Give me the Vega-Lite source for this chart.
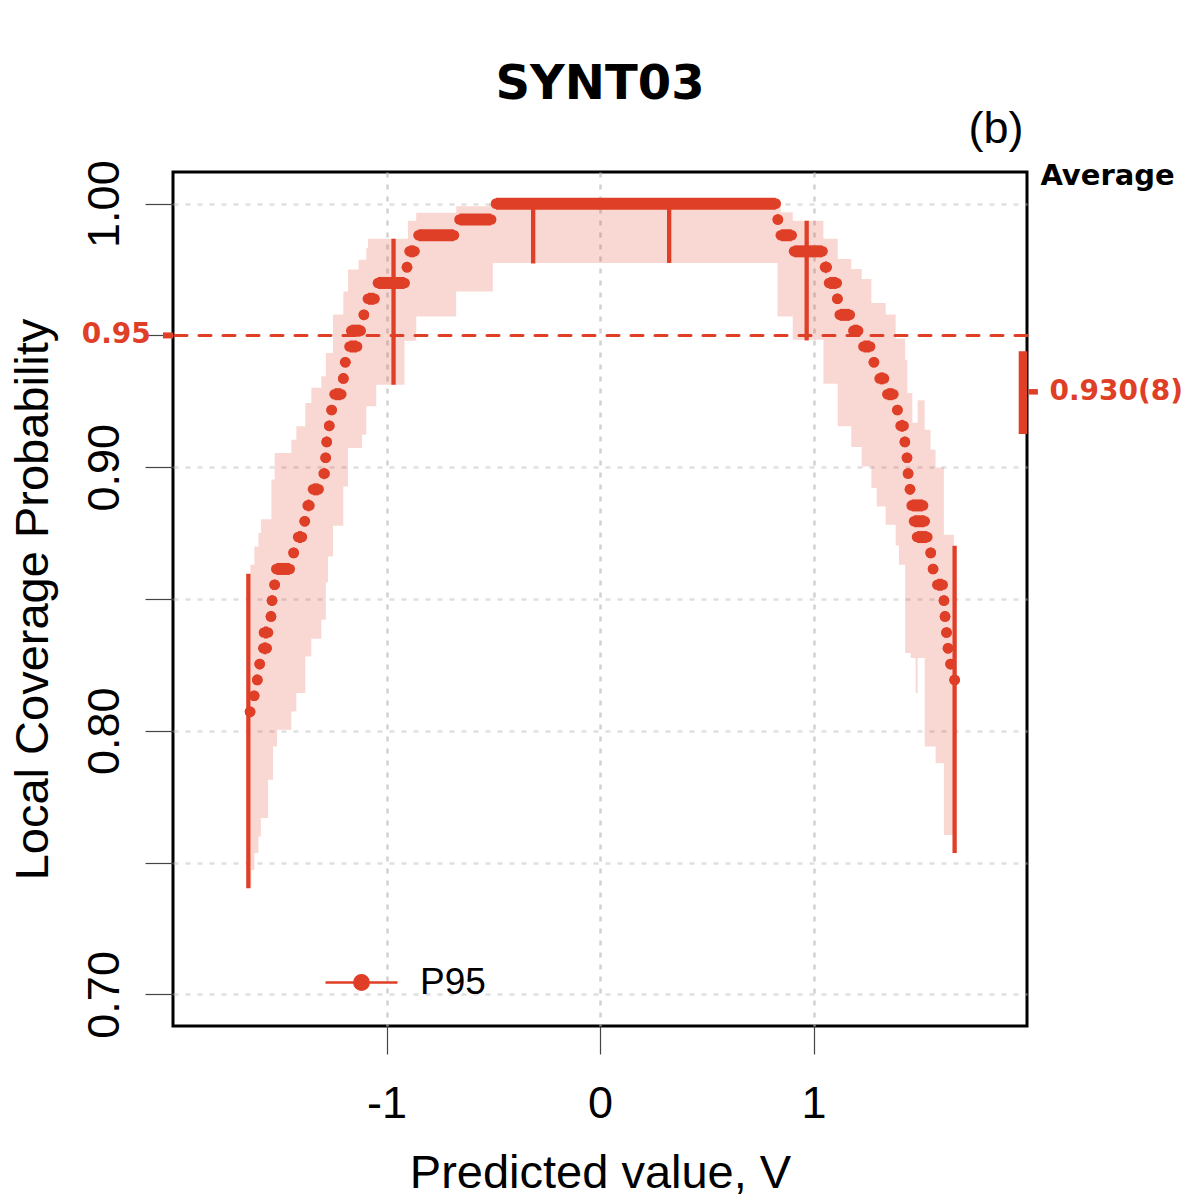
{
  "$schema": "https://vega.github.io/schema/vega-lite/v6.json",
  "width": 854,
  "height": 854,
  "autosize": {"type": "none"},
  "padding": {"left": 173, "top": 172, "right": 173, "bottom": 174},
  "background": "white",
  "title": {"text": "SYNT03"},
  "config": {
    "view": {"stroke": "black", "strokeWidth": 3},
    "font": "Liberation Sans",
    "title": {"font": "DejaVu Sans", "fontSize": 48, "fontWeight": "bold", "color": "black", "anchor": "middle", "frame": "group", "baseline": "alphabetic", "offset": -2},
    "axis": {
      "domain": false, "grid": true, "gridColor": "#BEBEBE", "gridOpacity": 0.7, "gridWidth": 2.5, "gridDash": [5, 7],
      "tickColor": "#444444", "tickWidth": 1.2, "tickSize": 28,
      "labelFont": "Liberation Sans", "labelFontSize": 45, "labelColor": "black",
      "titleFont": "Liberation Sans", "titleFontSize": 47, "titleFontWeight": "normal", "titleColor": "black",
      "zindex": 1, "labelOverlap": false, "labelFlush": false
    }
  },
  "datasets": {
    "band": [
      {"v": -1.6374, "hi": 0.8630, "lo": 0.7409},
      {"v": -1.6327, "hi": 0.8630, "lo": 0.7472},
      {"v": -1.6187, "hi": 0.8699, "lo": 0.7536},
      {"v": -1.6000, "hi": 0.8750, "lo": 0.7599},
      {"v": -1.5883, "hi": 0.8803, "lo": 0.7669},
      {"v": -1.5546, "hi": 0.8803, "lo": 0.7814},
      {"v": -1.5392, "hi": 0.8953, "lo": 0.7814},
      {"v": -1.5313, "hi": 0.8953, "lo": 0.7940},
      {"v": -1.5237, "hi": 0.9054, "lo": 0.7940},
      {"v": -1.5125, "hi": 0.9054, "lo": 0.8004},
      {"v": -1.4456, "hi": 0.9104, "lo": 0.8073},
      {"v": -1.4222, "hi": 0.9155, "lo": 0.8143},
      {"v": -1.3801, "hi": 0.9244, "lo": 0.8282},
      {"v": -1.3520, "hi": 0.9301, "lo": 0.8349},
      {"v": -1.3053, "hi": 0.9345, "lo": 0.8421},
      {"v": -1.2842, "hi": 0.9433, "lo": 0.8563},
      {"v": -1.2739, "hi": 0.9433, "lo": 0.8661},
      {"v": -1.2505, "hi": 0.9579, "lo": 0.8778},
      {"v": -1.2023, "hi": 0.9667, "lo": 0.8927},
      {"v": -1.1804, "hi": 0.9750, "lo": 0.9073},
      {"v": -1.1308, "hi": 0.9787, "lo": 0.9073},
      {"v": -1.1149, "hi": 0.9787, "lo": 0.9123},
      {"v": -1.0947, "hi": 0.9832, "lo": 0.9231},
      {"v": -1.0868, "hi": 0.9867, "lo": 0.9231},
      {"v": -1.0480, "hi": 0.9867, "lo": 0.9313},
      {"v": -0.9155, "hi": 0.9867, "lo": 0.9480},
      {"v": -0.8997, "hi": 0.9935, "lo": 0.9480},
      {"v": -0.8608, "hi": 0.9965, "lo": 0.9572},
      {"v": -0.6737, "hi": 0.9990, "lo": 0.9667},
      {"v": -0.5193, "hi": 1.0000, "lo": 0.9667},
      {"v": -0.5020, "hi": 1.0000, "lo": 0.9775},
      {"v": 0.8313, "hi": 1.0000, "lo": 0.9572},
      {"v": 0.8468, "hi": 0.9967, "lo": 0.9572},
      {"v": 0.9029, "hi": 0.9935, "lo": 0.9484},
      {"v": 1.0465, "hi": 0.9867, "lo": 0.9317},
      {"v": 1.1135, "hi": 0.9790, "lo": 0.9155},
      {"v": 1.1766, "hi": 0.9752, "lo": 0.9077},
      {"v": 1.2257, "hi": 0.9714, "lo": 0.9003},
      {"v": 1.2711, "hi": 0.9623, "lo": 0.8921},
      {"v": 1.2959, "hi": 0.9623, "lo": 0.8851},
      {"v": 1.3380, "hi": 0.9579, "lo": 0.8782},
      {"v": 1.3848, "hi": 0.9488, "lo": 0.8703},
      {"v": 1.4002, "hi": 0.9488, "lo": 0.8630},
      {"v": 1.4292, "hi": 0.9408, "lo": 0.8295},
      {"v": 1.4395, "hi": 0.9282, "lo": 0.8295},
      {"v": 1.4550, "hi": 0.9282, "lo": 0.8276},
      {"v": 1.4629, "hi": 0.9169, "lo": 0.8276},
      {"v": 1.4784, "hi": 0.9169, "lo": 0.8143},
      {"v": 1.4877, "hi": 0.9254, "lo": 0.8276},
      {"v": 1.5205, "hi": 0.9142, "lo": 0.7940},
      {"v": 1.5485, "hi": 0.9066, "lo": 0.7940},
      {"v": 1.5719, "hi": 0.8999, "lo": 0.7877},
      {"v": 1.6108, "hi": 0.8744, "lo": 0.7605},
      {"v": 1.6575, "hi": 0.8744, "lo": 0.7605}
    ],
    "runs": [
      {"v1": -0.487, "v2": 0.823, "p": 1.0000},
      {"v1": -0.658, "v2": -0.510, "p": 0.9940},
      {"v1": -0.850, "v2": -0.684, "p": 0.9880},
      {"v1": -0.892, "v2": -0.869, "p": 0.9819},
      {"v1": -0.904, "v2": -0.904, "p": 0.9759},
      {"v1": -1.040, "v2": -0.915, "p": 0.9699},
      {"v1": -1.087, "v2": -1.056, "p": 0.9639},
      {"v1": -1.106, "v2": -1.106, "p": 0.9578},
      {"v1": -1.165, "v2": -1.121, "p": 0.9518},
      {"v1": -1.173, "v2": -1.138, "p": 0.9458},
      {"v1": -1.193, "v2": -1.193, "p": 0.9398},
      {"v1": -1.202, "v2": -1.202, "p": 0.9337},
      {"v1": -1.243, "v2": -1.212, "p": 0.9277},
      {"v1": -1.257, "v2": -1.257, "p": 0.9217},
      {"v1": -1.268, "v2": -1.268, "p": 0.9157},
      {"v1": -1.280, "v2": -1.280, "p": 0.9096},
      {"v1": -1.285, "v2": -1.285, "p": 0.9036},
      {"v1": -1.294, "v2": -1.290, "p": 0.8976},
      {"v1": -1.344, "v2": -1.318, "p": 0.8916},
      {"v1": -1.369, "v2": -1.361, "p": 0.8855},
      {"v1": -1.383, "v2": -1.383, "p": 0.8795},
      {"v1": -1.414, "v2": -1.396, "p": 0.8735},
      {"v1": -1.435, "v2": -1.435, "p": 0.8675},
      {"v1": -1.516, "v2": -1.453, "p": 0.8614},
      {"v1": -1.524, "v2": -1.524, "p": 0.8554},
      {"v1": -1.536, "v2": -1.536, "p": 0.8494},
      {"v1": -1.541, "v2": -1.541, "p": 0.8434},
      {"v1": -1.574, "v2": -1.555, "p": 0.8373},
      {"v1": -1.577, "v2": -1.561, "p": 0.8313},
      {"v1": -1.594, "v2": -1.594, "p": 0.8253},
      {"v1": -1.605, "v2": -1.605, "p": 0.8193},
      {"v1": -1.620, "v2": -1.620, "p": 0.8133},
      {"v1": -1.639, "v2": -1.639, "p": 0.8072},
      {"v1": 0.833, "v2": 0.833, "p": 0.9940},
      {"v1": 0.847, "v2": 0.898, "p": 0.9880},
      {"v1": 0.909, "v2": 1.042, "p": 0.9819},
      {"v1": 1.054, "v2": 1.062, "p": 0.9759},
      {"v1": 1.073, "v2": 1.109, "p": 0.9699},
      {"v1": 1.112, "v2": 1.112, "p": 0.9639},
      {"v1": 1.123, "v2": 1.170, "p": 0.9578},
      {"v1": 1.187, "v2": 1.209, "p": 0.9518},
      {"v1": 1.234, "v2": 1.265, "p": 0.9458},
      {"v1": 1.283, "v2": 1.283, "p": 0.9398},
      {"v1": 1.310, "v2": 1.330, "p": 0.9337},
      {"v1": 1.346, "v2": 1.374, "p": 0.9277},
      {"v1": 1.393, "v2": 1.393, "p": 0.9217},
      {"v1": 1.408, "v2": 1.422, "p": 0.9157},
      {"v1": 1.428, "v2": 1.428, "p": 0.9096},
      {"v1": 1.438, "v2": 1.438, "p": 0.9036},
      {"v1": 1.443, "v2": 1.443, "p": 0.8976},
      {"v1": 1.452, "v2": 1.452, "p": 0.8916},
      {"v1": 1.460, "v2": 1.513, "p": 0.8855},
      {"v1": 1.471, "v2": 1.521, "p": 0.8795},
      {"v1": 1.485, "v2": 1.533, "p": 0.8735},
      {"v1": 1.549, "v2": 1.549, "p": 0.8675},
      {"v1": 1.560, "v2": 1.560, "p": 0.8614},
      {"v1": 1.580, "v2": 1.605, "p": 0.8554},
      {"v1": 1.611, "v2": 1.611, "p": 0.8494},
      {"v1": 1.616, "v2": 1.616, "p": 0.8434},
      {"v1": 1.623, "v2": 1.623, "p": 0.8373},
      {"v1": 1.630, "v2": 1.630, "p": 0.8313},
      {"v1": 1.642, "v2": 1.642, "p": 0.8253},
      {"v1": 1.661, "v2": 1.661, "p": 0.8193}
    ],
    "bars": [
      {"v": -1.647, "lo": 0.7403, "hi": 0.8596},
      {"v": -0.967, "lo": 0.9313, "hi": 0.9867},
      {"v": -0.313, "lo": 0.9773, "hi": 1.0},
      {"v": 0.324, "lo": 0.9775, "hi": 1.0},
      {"v": 0.968, "lo": 0.9481, "hi": 0.9935},
      {"v": 1.661, "lo": 0.7536, "hi": 0.8702}
    ],
    "avg": [
      {"m": 0.9286, "lo": 0.9126, "hi": 0.9440, "label": "0.930(8)"}
    ]
  },
  "layer": [
    {
      "data": {"name": "band"},
      "mark": {"type": "area", "interpolate": "step-after", "color": "#DF3E27", "opacity": 0.2},
      "encoding": {
        "x": {"field": "v", "type": "quantitative", "scale": {"domain": [-2, 2], "nice": false, "zero": false},
          "axis": {"values": [-1, 0, 1], "title": "Predicted value, V",
            "labelExpr": "datum.value < 0 ? '-' + format(-datum.value, 'd') : format(datum.value, 'd')",
            "labelBaseline": "alphabetic", "labelPadding": 63,
            "titleX": 427, "titleY": 161, "titleBaseline": "alphabetic", "titleAlign": "center"}},
        "y": {"field": "hi", "type": "quantitative", "scale": {"domain": [0.688, 1.012], "nice": false, "zero": false},
          "axis": {"values": [0.7, 0.75, 0.8, 0.85, 0.9, 0.95, 1.0], "title": "Local Coverage Probability",
            "labelExpr": "indexof(['0.70','0.80','0.90','1.00'], format(datum.value, '.2f')) >= 0 ? format(datum.value, '.2f') : ''",
            "labelAngle": 270, "labelAlign": "center", "labelBaseline": "alphabetic", "labelPadding": 27,
            "gridOpacity": {"condition": {"test": "abs(datum.value - 0.95) < 0.001", "value": 0}, "value": 0.7},
            "titleAngle": 270, "titleX": -126, "titleY": 427, "titleBaseline": "alphabetic", "titleAlign": "center"}},
        "y2": {"field": "lo"}
      }
    },
    {
      "data": {"values": [{}]},
      "mark": {"type": "rule", "color": "#DF3E27", "strokeWidth": 3, "strokeDash": [12, 12], "strokeCap": "round"},
      "encoding": {
        "y": {"datum": 0.95, "type": "quantitative"}
      }
    },
    {
      "data": {"name": "runs"},
      "mark": {"type": "rule", "color": "#DF3E27", "strokeWidth": 12},
      "encoding": {
        "x": {"field": "v1", "type": "quantitative"},
        "x2": {"field": "v2"},
        "y": {"field": "p", "type": "quantitative"}
      }
    },
    {
      "data": {"name": "runs"},
      "mark": {"type": "point", "shape": "circle", "filled": true, "size": 113, "opacity": 1, "strokeWidth": 0},
      "encoding": {
        "x": {"field": "v1", "type": "quantitative"},
        "y": {"field": "p", "type": "quantitative"},
        "color": {"datum": "P95", "type": "nominal", "scale": {"range": ["#DF3E27"]},
          "legend": {"orient": "none", "legendX": 151, "legendY": 773, "title": null, "padding": 0,
            "symbolType": "M-1,0L1,0M0.2,0A0.2,0.2,0,1,1,-0.2,0A0.2,0.2,0,1,1,0.2,0Z",
            "symbolSize": 5184, "symbolStrokeWidth": 2.5, "symbolFillColor": "#DF3E27", "symbolStrokeColor": "#DF3E27", "symbolOpacity": 1,
            "labelFont": "Liberation Sans", "labelFontSize": 37, "labelColor": "black", "labelOffset": 21,
            "encode": {"symbols": {"update": {
              "shape": {"value": "M-1,0L1,0M0.2,0A0.2,0.2,0,1,1,-0.2,0A0.2,0.2,0,1,1,0.2,0Z"},
              "size": {"value": 5184},
              "fill": {"value": "#DF3E27"}, "stroke": {"value": "#DF3E27"}, "strokeWidth": {"value": 2.5}, "opacity": {"value": 1}}}}}}
      }
    },
    {
      "data": {"name": "runs"},
      "mark": {"type": "point", "shape": "circle", "filled": true, "size": 113, "opacity": 1, "strokeWidth": 0, "color": "#DF3E27"},
      "encoding": {
        "x": {"field": "v2", "type": "quantitative"},
        "y": {"field": "p", "type": "quantitative"}
      }
    },
    {
      "data": {"name": "bars"},
      "mark": {"type": "rule", "color": "#DF3E27", "strokeWidth": 4.3},
      "encoding": {
        "x": {"field": "v", "type": "quantitative"},
        "y": {"field": "lo", "type": "quantitative"},
        "y2": {"field": "hi"}
      }
    },
    {
      "data": {"name": "avg"},
      "mark": {"type": "rule", "color": "#DF3E27", "strokeWidth": 8.5},
      "encoding": {
        "x": {"datum": 1.981, "type": "quantitative"},
        "y": {"field": "lo", "type": "quantitative"},
        "y2": {"field": "hi"}
      }
    },
    {
      "data": {"name": "avg"},
      "mark": {"type": "rule", "color": "#DF3E27", "strokeWidth": 5.5},
      "encoding": {
        "x": {"datum": 2.007, "type": "quantitative"},
        "x2": {"datum": 2.051},
        "y": {"field": "m", "type": "quantitative"}
      }
    },
    {
      "data": {"name": "avg"},
      "mark": {"type": "text", "font": "DejaVu Sans", "fontWeight": "bold", "fontSize": 28, "color": "#DF3E27", "align": "left", "baseline": "middle"},
      "encoding": {
        "x": {"datum": 2.105, "type": "quantitative"},
        "y": {"field": "m", "type": "quantitative"},
        "text": {"field": "label"}
      }
    },
    {
      "data": {"values": [{}]},
      "mark": {"type": "rule", "color": "#DF3E27", "strokeWidth": 6},
      "encoding": {
        "x": {"datum": -2.047, "type": "quantitative"},
        "x2": {"datum": -2.0},
        "y": {"datum": 0.95, "type": "quantitative"}
      }
    },
    {
      "data": {"values": [{}]},
      "mark": {"type": "text", "text": "0.95", "font": "DejaVu Sans", "fontWeight": "bold", "fontSize": 28, "color": "#DF3E27", "align": "right", "baseline": "middle"},
      "encoding": {
        "x": {"datum": -2.104, "type": "quantitative"},
        "y": {"datum": 0.95, "type": "quantitative"}
      }
    },
    {
      "data": {"values": [{}]},
      "mark": {"type": "text", "text": "(b)", "font": "Liberation Sans", "fontSize": 45, "color": "black", "align": "right", "baseline": "alphabetic"},
      "encoding": {
        "x": {"datum": 1.984, "type": "quantitative"},
        "y": {"datum": 1.0229, "type": "quantitative"}
      }
    },
    {
      "data": {"values": [{}]},
      "mark": {"type": "text", "text": "Average", "font": "DejaVu Sans", "fontWeight": "bold", "fontSize": 29, "color": "black", "align": "left", "baseline": "alphabetic"},
      "encoding": {
        "x": {"datum": 2.063, "type": "quantitative"},
        "y": {"datum": 1.0072, "type": "quantitative"}
      }
    }
  ]
}
